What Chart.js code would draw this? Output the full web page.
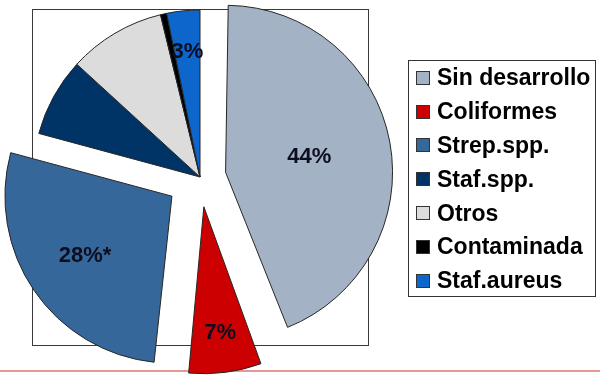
<!DOCTYPE html>
<html>
<head>
<meta charset="utf-8">
<script src="https://cdn.jsdelivr.net/npm/chart.js@4.4.1/dist/chart.umd.min.js"></script>
<style>
    body { margin: 0; background: #fff; }
    #wrap { position: relative; width: 600px; height: 376px; }
    #legend {
        position: absolute; left: 408px; top: 60px;
        width: 186px; height: 235px;
        border: 1px solid #333;
        font: bold 23px "Liberation Sans", Arial, sans-serif;
        color: #000;
    }
    #legend .fila { display: flex; align-items: center; height: 33.8px; }
    #legend .caja {
        width: 12px; height: 12px; margin: 0 7px 0 7px;
        border: 1px solid #333; flex: none;
    }
</style>
</head>
<body>
<div id="wrap">
    <canvas id="pie" width="600" height="376"></canvas>
    <div id="legend"></div>
</div>
<script>
const categorias = ['Sin desarrollo', 'Coliformes', 'Strep.spp.', 'Staf.spp.', 'Otros', 'Contaminada', 'Staf.aureus'];
const porcentajes = [44.2, 7.5, 27.5, 7.6, 9.4, 0.6, 3.2];
const etiquetas = ['44%', '7%', '28%*', '', '', '', '3%'];
const colores = ['#a3b3c5', '#cc0000', '#36679b', '#003366', '#dcdcdc', '#000000', '#0d66cc'];

// Chart.js agranda el radio de los sectores separados; se compensa aqui
function extraRadio(arc) {
    const t = (arc.options.offset || 0) / 4;
    return t * (1 - Math.sin(Math.min(Math.PI, arc.endAngle - arc.startAngle)));
}

const radioPlugin = {
    id: 'radioIgual',
    afterDatasetUpdate(chart, args) {
        args.meta.data.forEach(arc => {
            arc.outerRadius -= extraRadio(arc);
        });
    }
};

// marco del area del grafico y linea roja inferior
const marcoPlugin = {
    id: 'marco',
    beforeDatasetsDraw(chart) {
        const { ctx, chartArea } = chart;
        ctx.save();
        ctx.strokeStyle = '#3a3a3a';
        ctx.lineWidth = 1;
        ctx.strokeRect(Math.round(chartArea.left) + 0.5, Math.round(chartArea.top) + 0.5,
            Math.round(chartArea.width), Math.round(chartArea.height));
        ctx.strokeStyle = 'rgba(215, 70, 70, 0.75)';
        ctx.lineWidth = 1.5;
        ctx.beginPath();
        ctx.moveTo(0, 371);
        ctx.lineTo(chart.width, 371);
        ctx.stroke();
        ctx.restore();
    }
};

// etiquetas de porcentaje dentro de cada sector
const etiquetasPlugin = {
    id: 'etiquetas',
    afterDatasetsDraw(chart, args, opts) {
        const { ctx } = chart;
        const meta = chart.getDatasetMeta(0);
        ctx.save();
        ctx.font = 'bold 22px "Liberation Sans", Arial, sans-serif';
        ctx.fillStyle = '#0d0d20';
        ctx.textAlign = 'center';
        ctx.textBaseline = 'middle';
        meta.data.forEach((arc, i) => {
            if (!etiquetas[i]) return;
            const medio = (arc.startAngle + arc.endAngle) / 2;
            const radio = arc.outerRadius + extraRadio(arc);
            const dist = (arc.options.offset || 0) / 4 + opts.fracciones[i] * radio;
            ctx.fillText(etiquetas[i], arc.x + Math.cos(medio) * dist, arc.y + Math.sin(medio) * dist);
        });
        ctx.restore();
    }
};

new Chart(document.getElementById('pie'), {
    type: 'pie',
    data: {
        labels: categorias,
        datasets: [{
            data: porcentajes,
            backgroundColor: colores,
            borderColor: '#262626',
            borderWidth: 1,
            offset: [104, 120, 136, 0, 0, 0, 0]
        }]
    },
    options: {
        responsive: false,
        animation: false,
        radius: 167,
        layout: { padding: { left: 32, top: 9, right: 232, bottom: 31 } },
        plugins: {
            legend: { display: false },
            tooltip: { enabled: false },
            etiquetas: { fracciones: [0.51, 0.76, 0.63, 0, 0, 0, 0.75] }
        }
    },
    plugins: [radioPlugin, marcoPlugin, etiquetasPlugin]
});

// leyenda en HTML
const leyenda = document.getElementById('legend');
categorias.forEach((nombre, i) => {
    const fila = document.createElement('div');
    fila.className = 'fila';
    const caja = document.createElement('span');
    caja.className = 'caja';
    caja.style.background = colores[i];
    const texto = document.createElement('span');
    texto.textContent = nombre;
    fila.appendChild(caja);
    fila.appendChild(texto);
    leyenda.appendChild(fila);
});
</script>
</body>
</html>
